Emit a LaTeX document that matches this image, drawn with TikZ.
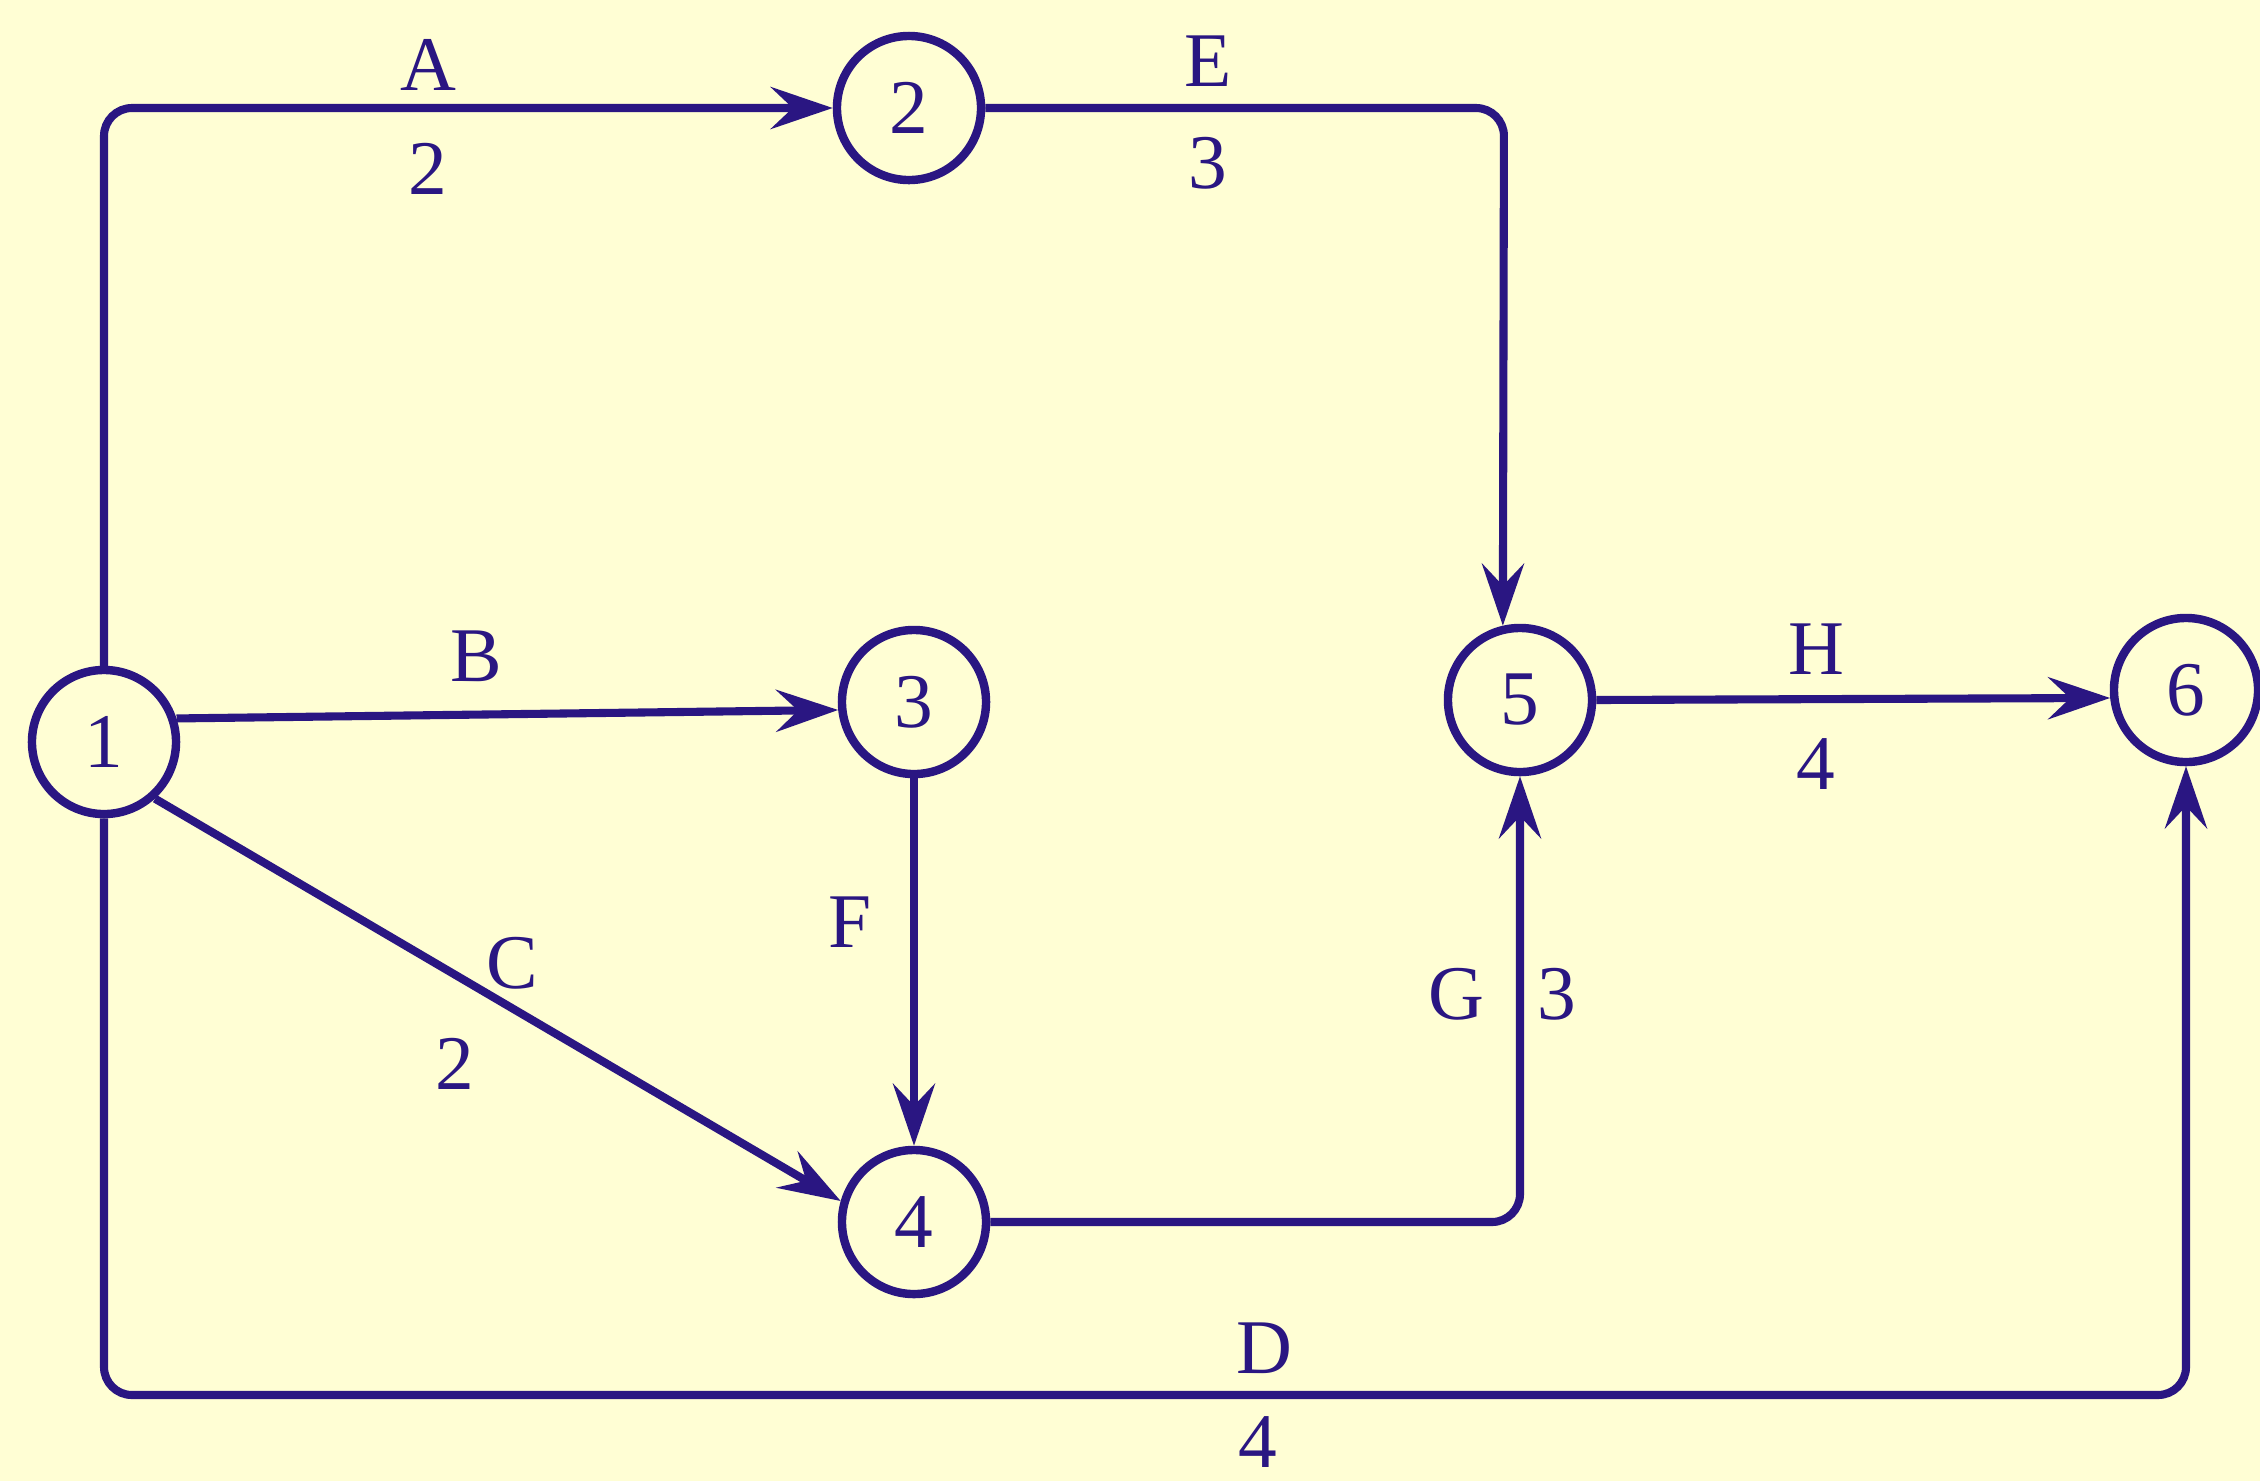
\documentclass[tikz,border=0pt]{standalone}
\usepackage{fontspec}
\setmainfont{Liberation Serif}
\usetikzlibrary{arrows.meta}
\definecolor{ink}{RGB}{42,22,130}
\definecolor{paper}{RGB}{255,254,212}
\tikzset{
  ev/.style={circle,draw=ink,line width=2.4pt,minimum size=1.44cm,inner sep=0pt,text=ink,font=\fontsize{22}{26}\selectfont},
  act/.style={draw=ink,line width=2.3pt,rounded corners=0.28cm,-{Stealth[length=0.62cm,width=0.42cm,inset=0.22cm]}},
  lab/.style={text=ink,font=\fontsize{22}{26}\selectfont,inner sep=0pt}
}
\begin{document}
\begin{tikzpicture}[x=0.01cm,y=-0.01cm]
\useasboundingbox (0,0) rectangle (2260,1481);
\fill[paper] (0,0) rectangle (2260,1481);
% nodes
\node[ev] (n1) at (104,742) {1};
\node[ev] (n2) at (909,108) {2};
\node[ev] (n3) at (914,702) {3};
\node[ev] (n4) at (914,1222) {4};
\node[ev] (n5) at (1520,700) {5};
\node[ev] (n6) at (2186,690) {6};
% corner coordinates
\coordinate (ca) at (104,108);
\coordinate (ce) at (1504,108);
\coordinate (cg) at (1520,1222);
\coordinate (cd1) at (104,1395);
\coordinate (cd2) at (2186,1395);
% activities
\draw[act] (n1.north) -- (ca) -- (n2.west);
\draw[act] (n2.east) -- (ce) -- (n5.103);
\draw[act] (n1.18) -- (n3.186);
\draw[act] (n1.-48) -- (n4.164);
\draw[act] (n1.south) -- (cd1) -- (cd2) -- (n6.south);
\draw[act] (n3.south) -- (n4.north);
\draw[act] (n4.east) -- (cg) -- (n5.south);
\draw[act] (n5.east) -- (n6.186);
% labels
\node[lab] (lA) at (428,65) {A};
\node[lab] (tA) at (428,169) {2};
\node[lab] (lE) at (1208,61) {E};
\node[lab] (tE) at (1208,163) {3};
\node[lab] (lB) at (476,656) {B};
\node[lab] (lC) at (512,963) {C};
\node[lab] (tC) at (455,1064) {2};
\node[lab] (lF) at (850,922) {F};
\node[lab] (lG) at (1456,994) {G};
\node[lab] (tG) at (1557,994) {3};
\node[lab] (lH) at (1816,649) {H};
\node[lab] (tH) at (1816,764) {4};
\node[lab] (lD) at (1264,1348) {D};
\node[lab] (tD) at (1258,1442) {4};
\end{tikzpicture}
\end{document}
